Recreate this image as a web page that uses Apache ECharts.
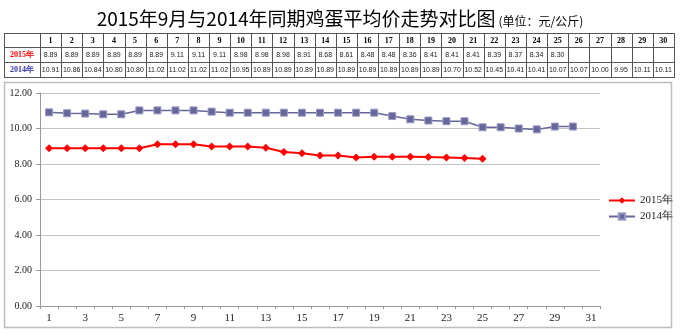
<!DOCTYPE html>
<html>
<head>
<meta charset="utf-8">
<style>
  html, body { margin: 0; padding: 0; background: #fff; }
  #chart { width: 680px; height: 334px; }
</style>
<script src="https://cdn.jsdelivr.net/npm/echarts@6/dist/echarts.min.js"></script>
</head>
<body>
<div id="chart"></div>
<script>
// Days of the month on the x axis (1..31)
const days = ['1','2','3','4','5','6','7','8','9','10','11','12','13','14','15','16','17','18','19','20','21','22','23','24','25','26','27','28','29','30','31'];
// Table header: days 1..30
const tableDays = ['1','2','3','4','5','6','7','8','9','10','11','12','13','14','15','16','17','18','19','20','21','22','23','24','25','26','27','28','29','30'];
// Average egg price, September 2015 (yuan/kg)
const price2015 = [8.89, 8.89, 8.89, 8.89, 8.89, 8.89, 9.11, 9.11, 9.11, 8.98, 8.98, 8.98, 8.91, 8.68, 8.61, 8.48, 8.48, 8.36, 8.41, 8.41, 8.41, 8.39, 8.37, 8.34, 8.30];
// Average egg price, September 2014 (yuan/kg)
const price2014 = [10.91, 10.86, 10.84, 10.80, 10.80, 11.02, 11.02, 11.02, 11.02, 10.95, 10.89, 10.89, 10.89, 10.89, 10.89, 10.89, 10.89, 10.89, 10.89, 10.70, 10.52, 10.45, 10.41, 10.41, 10.07, 10.07, 10.00, 9.95, 10.11, 10.11];
const seriesNames = ['2015年', '2014年'];

const fmt = v => v.toFixed(2);

// ---- data table above the plot ----
const tbl = { x: 4, y: 33, labelW: 36, colW: 21.13, rowH: [14, 15, 15] };
const tableEls = [];
const rowTops = [tbl.y, tbl.y + tbl.rowH[0], tbl.y + tbl.rowH[0] + tbl.rowH[1]];
const tblBottom = rowTops[2] + tbl.rowH[2];
const tblRight = tbl.x + tbl.labelW + tbl.colW * tableDays.length;
const lineStyle = { stroke: '#555', lineWidth: 1 };

// horizontal rules
[tbl.y, rowTops[1], rowTops[2], tblBottom].forEach(y => {
  tableEls.push({ type: 'line', shape: { x1: tbl.x, y1: y + 0.5, x2: tblRight, y2: y + 0.5 }, style: lineStyle });
});
// vertical rules
for (let i = 0; i <= tableDays.length + 1; i++) {
  const x = i === 0 ? tbl.x : tbl.x + tbl.labelW + tbl.colW * (i - 1);
  tableEls.push({ type: 'line', shape: { x1: Math.round(x) + 0.5, y1: tbl.y, x2: Math.round(x) + 0.5, y2: tblBottom + 1 }, style: lineStyle });
}
function cellText(text, cx, cy, style) {
  tableEls.push({
    type: 'text', x: cx, y: cy,
    style: Object.assign({ text: text, align: 'center', verticalAlign: 'middle', fill: '#000' }, style)
  });
}
// row labels
cellText(seriesNames[0], tbl.x + tbl.labelW / 2, rowTops[1] + tbl.rowH[1] / 2, { fill: '#ff0000', font: 'bold 8px "Liberation Serif", serif' });
cellText(seriesNames[1], tbl.x + tbl.labelW / 2, rowTops[2] + tbl.rowH[2] / 2, { fill: '#3333aa', font: 'bold 8px "Liberation Serif", serif' });
tableDays.forEach((d, i) => {
  const cx = tbl.x + tbl.labelW + tbl.colW * (i + 0.5);
  cellText(d, cx, tbl.y + tbl.rowH[0] / 2 + 0.5, { font: 'bold 8px "Liberation Serif", serif' });
  if (i < price2015.length) {
    cellText(fmt(price2015[i]), cx, rowTops[1] + tbl.rowH[1] / 2 + 0.5, { font: '7px "Liberation Sans Narrow", "Liberation Sans", sans-serif', fill: '#222' });
  }
  if (i < price2014.length) {
    cellText(fmt(price2014[i]), cx, rowTops[2] + tbl.rowH[2] / 2 + 0.5, { font: '7px "Liberation Sans Narrow", "Liberation Sans", sans-serif', fill: '#222' });
  }
});

// frame around the plot area
const frame = {
  type: 'rect', shape: { x: 4.5, y: 82.5, width: 667, height: 245 },
  style: { fill: 'none', stroke: '#bdbdbd', lineWidth: 1.5 }, z: -1
};

const chart = echarts.init(document.getElementById('chart'), null, { renderer: 'canvas' });
chart.setOption({
  animation: false,
  backgroundColor: '#fff',
  title: {
    text: '2015年9月与2014年同期鸡蛋平均价走势对比图{u|(单位：元/公斤)}',
    left: 'center',
    top: 4,
    textStyle: {
      fontFamily: '"Noto Sans CJK SC", sans-serif',
      fontSize: 19,
      fontWeight: 'normal',
      color: '#000',
      rich: {
        u: { fontFamily: '"Noto Sans CJK SC", sans-serif', fontSize: 12, color: '#000', padding: [5, 0, 0, 3] }
      }
    }
  },
  graphic: [frame].concat(tableEls),
  legend: {
    orient: 'vertical',
    left: 603,
    top: 190,
    itemWidth: 26,
    itemHeight: 8,
    itemGap: 5,
    data: seriesNames,
    textStyle: { fontFamily: '"Liberation Serif", serif', fontSize: 11, color: '#222' }
  },
  grid: { left: 40, right: 80, top: 93, bottom: 28, containLabel: false },
  xAxis: {
    type: 'category',
    data: days,
    boundaryGap: true,
    axisLine: { lineStyle: { color: '#9a9a9a' } },
    axisTick: { show: true, length: 3, alignWithLabel: false, interval: 0, lineStyle: { color: '#9a9a9a' } },
    axisLabel: { interval: 1, color: '#222', fontFamily: '"Liberation Serif", serif', fontSize: 11, margin: 7 },
    splitLine: { show: false }
  },
  yAxis: {
    type: 'value',
    min: 0, max: 12, interval: 2,
    axisLine: { show: true, lineStyle: { color: '#9a9a9a' } },
    axisTick: { show: true, length: 4, lineStyle: { color: '#9a9a9a' } },
    axisLabel: { formatter: v => fmt(v), color: '#222', fontFamily: '"Liberation Serif", serif', fontSize: 10, margin: 8 },
    splitLine: { lineStyle: { color: '#c4c4c4', width: 1.2 } }
  },
  series: [
    {
      name: seriesNames[0],
      type: 'line',
      data: price2015,
      symbol: 'diamond',
      symbolSize: 8,
      itemStyle: { color: '#ff0000' },
      lineStyle: { color: '#ff0000', width: 2 }
    },
    {
      name: seriesNames[1],
      type: 'line',
      data: price2014,
      symbol: 'rect',
      symbolSize: 7,
      itemStyle: { color: '#666699', borderColor: '#9a9ac8', borderWidth: 1 },
      lineStyle: { color: '#666699', width: 1.5 }
    }
  ]
});
</script>
</body>
</html>
